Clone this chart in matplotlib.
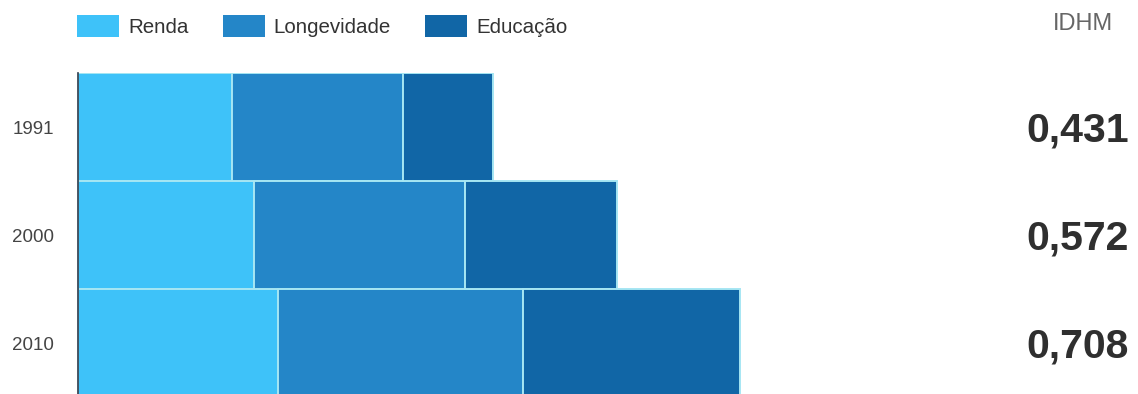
import matplotlib
matplotlib.use("Agg")
import matplotlib.pyplot as plt
import matplotlib.transforms as mtransforms
from matplotlib.patches import Patch

years = ["1991", "2000", "2010"]
renda = [0.497, 0.568, 0.645]
longevidade = [0.552, 0.681, 0.790]
educacao = [0.290, 0.490, 0.700]
idhm = ["0,431", "0,572", "0,708"]
series_names = ["Renda", "Longevidade", "Educação"]
colors = ["#3ec2f9", "#2486c8", "#1166a6"]

plt.rcParams["font.family"] = ["Liberation Sans", "DejaVu Sans"]

W, H = 1138, 394
fig = plt.figure(figsize=(W / 100, H / 100), dpi=100)
left_px, top_px, right_px = 78, 73, 960
ax = fig.add_axes([left_px / W, 0, (right_px - left_px) / W, (H - top_px) / H])

px_per_unit = 310.0
ax.set_xlim(0, (right_px - left_px) / px_per_unit)
row_px = 108.0
ax.set_ylim(-0.5 + (H - top_px) / row_px, -0.5)

ypos = list(range(len(years)))
lefts = [0.0] * len(years)
for name, vals, col in zip(series_names, [renda, longevidade, educacao], colors):
    ax.barh(ypos, vals, left=lefts, height=1.0, color=col,
            edgecolor="#a6e6f3", linewidth=1.4, label=name)
    lefts = [a + b for a, b in zip(lefts, vals)]

for s in ["top", "right", "bottom"]:
    ax.spines[s].set_visible(False)
ax.spines["left"].set_color("#2b3a4a")
ax.spines["left"].set_linewidth(1.2)
ax.set_xticks([])
ax.set_yticks(ypos)
ax.set_yticklabels(years, fontsize=13.5, color="#444444")
ax.tick_params(axis="y", length=0, pad=17.5)

trans = mtransforms.blended_transform_factory(fig.transFigure, ax.transData)
for y, v in zip(ypos, idhm):
    ax.text(1129 / W, y + 0.03, v, transform=trans, ha="right", va="center",
            fontsize=29.5, fontweight="bold", color="#2f2f2f", clip_on=False)

fig.text(1113 / W, 1 - 24 / H, "IDHM", ha="right", va="center",
         fontsize=17, color="#666666")

handles = [Patch(facecolor=c, edgecolor="none") for c in colors]
fig.legend(handles, series_names, loc="center left",
           bbox_to_anchor=(77 / W, 1 - 26 / H), ncol=3, frameon=False,
           fontsize=14.8, handlelength=2.05, handleheight=1.22,
           handletextpad=0.44, columnspacing=1.66, borderpad=0,
           borderaxespad=0, labelcolor="#333333")

fig.savefig("out.png", dpi=100)
